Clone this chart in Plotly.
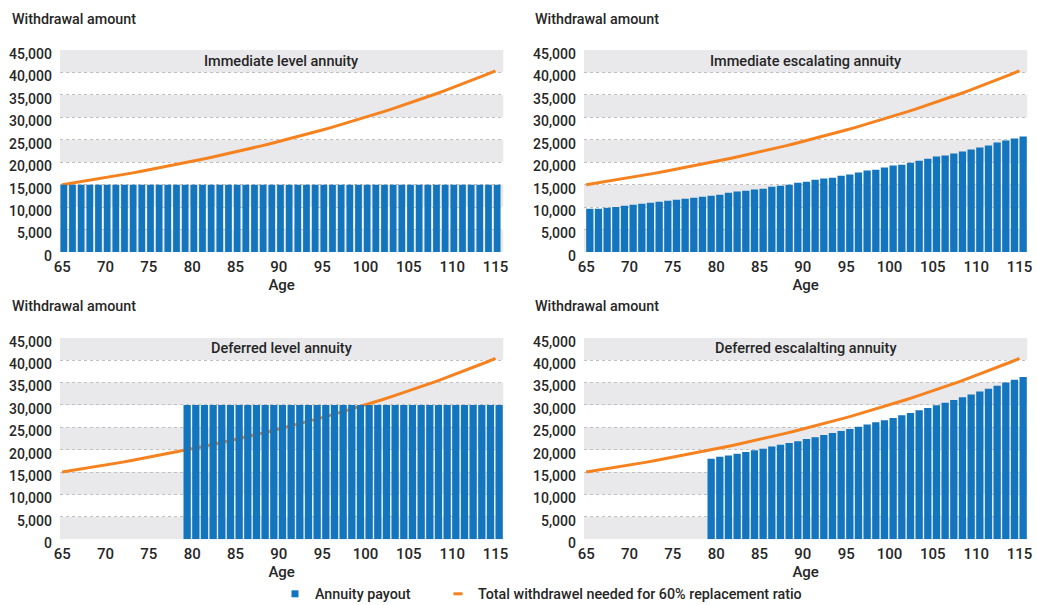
import plotly.graph_objects as go

# ---------------- data ----------------
ages = [65, 66, 67, 68, 69, 70, 71, 72, 73, 74, 75, 76, 77, 78, 79, 80, 81, 82, 83, 84,
        85, 86, 87, 88, 89, 90, 91, 92, 93, 94, 95, 96, 97, 98, 99, 100, 101, 102, 103,
        104, 105, 106, 107, 108, 109, 110, 111, 112, 113, 114, 115]
deferred_ages = [79, 80, 81, 82, 83, 84, 85, 86, 87, 88, 89, 90, 91, 92, 93, 94, 95, 96,
                 97, 98, 99, 100, 101, 102, 103, 104, 105, 106, 107, 108, 109, 110, 111,
                 112, 113, 114, 115]

# Total withdrawal needed for 60% replacement ratio
needed = [15000, 15300, 15610, 15920, 16240, 16560, 16890, 17230, 17570, 17930,
          18290, 18650, 19020, 19400, 19790, 20190, 20590, 21000, 21420, 21850,
          22290, 22740, 23190, 23650, 24130, 24610, 25100, 25600, 26120, 26640,
          27170, 27710, 28270, 28830, 29410, 30000, 30600, 31210, 31840, 32470,
          33120, 33780, 34460, 35150, 35850, 36570, 37300, 38050, 38810, 39580,
          40370]

immediate_level = [15000, 15000, 15000, 15000, 15000, 15000, 15000, 15000, 15000, 15000,
                   15000, 15000, 15000, 15000, 15000, 15000, 15000, 15000, 15000, 15000,
                   15000, 15000, 15000, 15000, 15000, 15000, 15000, 15000, 15000, 15000,
                   15000, 15000, 15000, 15000, 15000, 15000, 15000, 15000, 15000, 15000,
                   15000, 15000, 15000, 15000, 15000, 15000, 15000, 15000, 15000, 15000,
                   15000]

immediate_escalating = [9650, 9650, 9850, 10050, 10300, 10500, 10750, 10950, 11200, 11400,
                        11650, 11850, 12100, 12300, 12550, 12750, 13200, 13450, 13650, 13900,
                        14100, 14550, 14750, 15000, 15450, 15650, 16100, 16350, 16550, 17000,
                        17250, 17700, 18150, 18350, 18800, 19250, 19450, 19900, 20350, 20800,
                        21250, 21500, 21950, 22400, 22850, 23300, 23750, 24400, 24850, 25300,
                        25750]

deferred_level = [30000, 30000, 30000, 30000, 30000, 30000, 30000, 30000, 30000, 30000,
                  30000, 30000, 30000, 30000, 30000, 30000, 30000, 30000, 30000, 30000,
                  30000, 30000, 30000, 30000, 30000, 30000, 30000, 30000, 30000, 30000,
                  30000, 30000, 30000, 30000, 30000, 30000, 30000]

deferred_escalating = [18000, 18400, 18700, 19100, 19500, 19900, 20200, 20700, 21100, 21500,
                       21900, 22400, 22800, 23300, 23700, 24200, 24600, 25100, 25600, 26100,
                       26600, 27100, 27700, 28200, 28800, 29300, 29900, 30500, 31100, 31700,
                       32300, 33000, 33600, 34300, 35000, 35600, 36200]

panel_titles = ["Immediate level annuity", "Immediate escalating annuity",
                "Deferred level annuity", "Deferred escalalting annuity"]
x_ticks = [65, 70, 75, 80, 85, 90, 95, 100, 105, 110, 115]
y_ticks = [0, 5000, 10000, 15000, 20000, 25000, 30000, 35000, 40000, 45000]
y_title = "Withdrawal amount"
x_title = "Age"
legend_names = ["Annuity payout", "Total withdrawel needed for 60% replacement ratio"]

# ---------------- style ----------------
W, H = 1037, 605
FONT = "Roboto, Liberation Sans, sans-serif"
TXT = "#262626"
BLUE = "#1275bd"
ORANGE = "#f5821f"
BAND = "#e9e9eb"
GRID = "#c0c0c0"
WEIGHT = 500

col_dom = [[60 / W, 503.3 / W], [584 / W, 1027.3 / W]]
row_dom = [[1 - 252 / H, 1 - 50 / H], [1 - 539.3 / H, 1 - 337.7 / H]]
x_range = [64.75, 115.9]

panels = [
    dict(title=panel_titles[0], x=ages, y=immediate_level, col=0, row=0, off=-0.2, w=0.78),
    dict(title=panel_titles[1], x=ages, y=immediate_escalating, col=1, row=0, off=0.0, w=0.84),
    dict(title=panel_titles[2], x=deferred_ages, y=deferred_level, col=0, row=1, off=0.0, w=0.84),
    dict(title=panel_titles[3], x=deferred_ages, y=deferred_escalating, col=1, row=1, off=0.0, w=0.84),
]


def tfont(size):
    return dict(family=FONT, size=size, color=TXT, weight=WEIGHT)


fig = go.Figure()
layout = dict(
    template="none",
    width=W, height=H,
    margin=dict(l=0, r=0, t=0, b=0, pad=0, autoexpand=False),
    paper_bgcolor="white", plot_bgcolor="white",
    font=tfont(14),
    showlegend=True,
    barmode="overlay",
    hovermode=False,
)
annotations = []
shapes = []

for i, p in enumerate(panels):
    n = i + 1
    ov = n + 4
    xa = "x" if n == 1 else f"x{n}"
    ya = "y" if n == 1 else f"y{n}"
    xo, yo = f"x{ov}", f"y{ov}"
    xdom = col_dom[p["col"]]
    ydom = row_dom[p["row"]]

    # line on base axes (drawn below the bars, which live on overlay axes)
    fig.add_trace(go.Scatter(x=ages, y=needed, mode="lines",
                             line=dict(color=ORANGE, width=3), showlegend=False,
                             xaxis=xa, yaxis=ya, cliponaxis=False))
    fig.add_trace(go.Bar(x=p["x"], y=p["y"], marker=dict(color=BLUE, line=dict(width=0)),
                         offset=p["off"], width=p["w"], showlegend=False,
                         xaxis=xo, yaxis=yo))

    xkey = "xaxis" if n == 1 else f"xaxis{n}"
    ykey = "yaxis" if n == 1 else f"yaxis{n}"
    layout[xkey] = dict(domain=xdom, range=x_range, anchor=ya, tickmode="array",
                        tickvals=x_ticks, showgrid=False, zeroline=False, showline=False,
                        ticks="", ticklabelstandoff=4, automargin=False,
                        tickfont=tfont(15),
                        title=dict(text=x_title, standoff=1, font=tfont(15)),
                        fixedrange=True)
    layout[ykey] = dict(domain=ydom, range=[0, 45000], anchor=xa, tickmode="array",
                        tickvals=y_ticks, tickformat=",d", showgrid=True, gridcolor=GRID,
                        gridwidth=1, griddash="dot", zeroline=False, showline=False,
                        ticks="", ticklabelstandoff=7, ticklabelshift=4, automargin=False,
                        tickfont=tfont(14), fixedrange=True)
    layout[f"xaxis{ov}"] = dict(overlaying=xa, range=x_range, visible=False,
                                showgrid=False, zeroline=False, anchor=yo,
                                automargin=False, fixedrange=True)
    layout[f"yaxis{ov}"] = dict(overlaying=ya, range=[0, 45000], visible=False,
                                showgrid=False, zeroline=False, anchor=xo,
                                automargin=False, fixedrange=True)

    # alternating grey bands between ticks
    for k in range(0, len(y_ticks) - 1, 2):
        shapes.append(dict(type="rect", xref=f"{xa} domain", yref=ya, x0=0, x1=1,
                           y0=y_ticks[k], y1=y_ticks[k + 1], fillcolor=BAND,
                           line=dict(width=0), layer="below"))

    # panel title in the top band
    annotations.append(dict(text=p["title"], xref=f"{xa} domain", yref=f"{ya} domain",
                            x=0.5, y=0.945, xanchor="center", yanchor="middle",
                            showarrow=False, font=tfont(14.5)))
    # "Withdrawal amount" label
    ax_px = 10 if p["col"] == 0 else 533
    ay_px = 19 if p["row"] == 0 else 306
    annotations.append(dict(text=y_title, xref="paper", yref="paper",
                            x=ax_px / W, y=1 - ay_px / H, xanchor="left",
                            yanchor="middle", showarrow=False,
                            font=tfont(14.3)))

# legend entries (two independent legends)
fig.add_trace(go.Scatter(x=[None], y=[None], mode="markers", name=legend_names[0],
                         marker=dict(symbol="square", size=7, color=BLUE),
                         xaxis="x", yaxis="y", legend="legend"))
fig.add_trace(go.Scatter(x=[None], y=[None], mode="markers", name=legend_names[1],
                         marker=dict(symbol="line-ew", size=6.5,
                                     line=dict(color=ORANGE, width=3)),
                         xaxis="x", yaxis="y", legend="legend2"))

leg_common = dict(orientation="h", xanchor="left", yanchor="middle",
                  font=tfont(14.3), bgcolor="rgba(0,0,0,0)",
                  itemclick=False, itemdoubleclick=False, borderwidth=0)
layout["legend"] = dict(x=275 / W, y=1 - 594 / H, **leg_common)
layout["legend2"] = dict(x=438 / W, y=1 - 594 / H, **leg_common)
layout["annotations"] = annotations
layout["shapes"] = shapes
fig.update_layout(**layout)

fig.write_html("out.html",
               config={"displayModeBar": False, "staticPlot": False},
               post_script="document.body.style.margin='0px';"
                           "document.documentElement.style.margin='0px';")
